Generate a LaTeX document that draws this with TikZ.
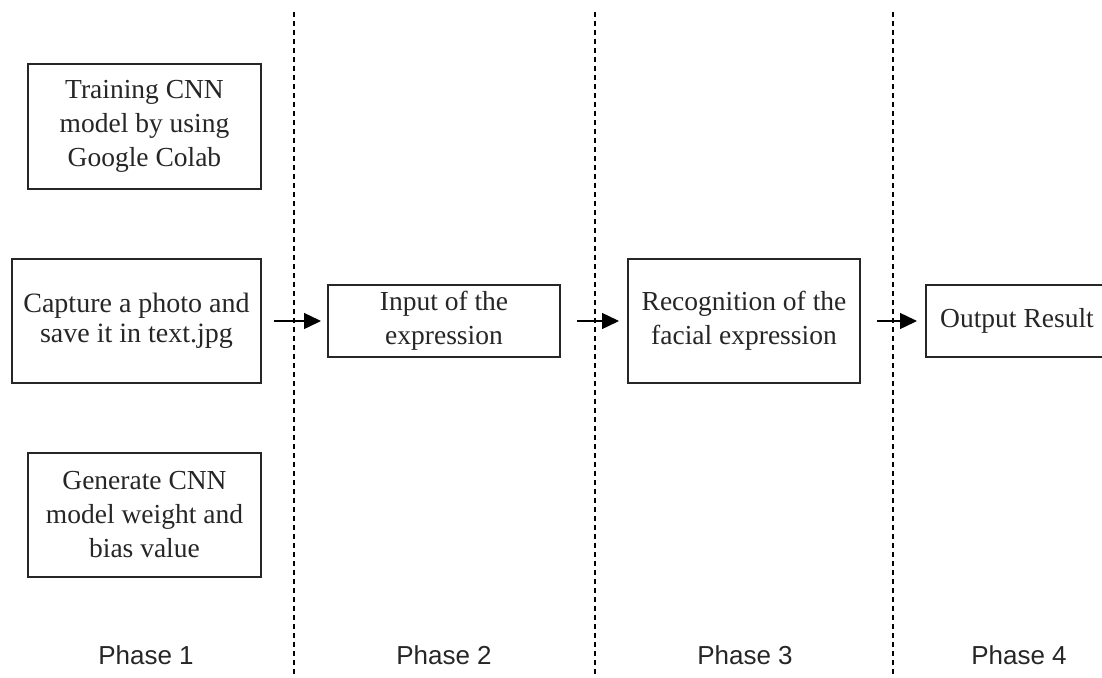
\documentclass[tikz,border=0pt]{standalone}
\usepackage{fontspec}
\setmainfont{Liberation Serif}
\newfontfamily\phasefont{Liberation Sans}
\usetikzlibrary{arrows.meta}
\tikzset{
  box/.style={draw=black!85, line width=1.6pt, fill=white, align=center, inner sep=0pt,
    font=\fontsize{27.5}{34}\selectfont, text=black!85},
  divider/.style={line width=1.5pt, dash pattern=on 5pt off 4pt},
  flow/.style={line width=1.4pt, -{Triangle[length=17pt,width=16pt]}},
  phase/.style={font=\phasefont\fontsize{26}{30}\selectfont, text=black!85}
}
\begin{document}
\begin{tikzpicture}[x=1pt,y=-1pt]
\useasboundingbox (0,0) rectangle (1102,677);
\clip (0,0) rectangle (1102,677);
% dividers
\coordinate (d1t) at (294,12); \coordinate (d1b) at (294,677);
\coordinate (d2t) at (595,12); \coordinate (d2b) at (595,677);
\coordinate (d3t) at (893,12); \coordinate (d3b) at (893,677);
\draw[divider] (d1t) -- (d1b);
\draw[divider] (d2t) -- (d2b);
\draw[divider] (d3t) -- (d3b);
% boxes
\node[box, minimum width=233pt, minimum height=125pt] (train) at (144.5,126.5) {Training CNN\\model by using\\Google Colab};
\node[box, minimum width=249pt, minimum height=124pt, font=\fontsize{28}{30}\selectfont] (capture) at (136.5,321) {Capture a photo and\\save it in text.jpg};
\node[box, minimum width=233pt, minimum height=124pt] (gen) at (144.5,515) {Generate CNN\\model weight and\\bias value};
\node[box, minimum width=232pt, minimum height=72pt] (input) at (444,321) {Input of the\\expression};
\node[box, minimum width=232pt, minimum height=124pt] (recog) at (744,321) {Recognition of the\\facial expression};
\node[box, minimum width=182pt, minimum height=72pt] (out) at (1017,321) {Output Result};
% arrows
\coordinate (a1s) at (274,321); \coordinate (a1e) at (321,321);
\coordinate (a2s) at (577,321); \coordinate (a2e) at (619,321);
\coordinate (a3s) at (877,321); \coordinate (a3e) at (917,321);
\draw[flow] (a1s) -- (a1e);
\draw[flow] (a2s) -- (a2e);
\draw[flow] (a3s) -- (a3e);
% phase labels
\node[phase] (p1) at (146,655) {Phase 1};
\node[phase] (p2) at (444,655) {Phase 2};
\node[phase] (p3) at (745,655) {Phase 3};
\node[phase] (p4) at (1019,655) {Phase 4};
\end{tikzpicture}
\end{document}
